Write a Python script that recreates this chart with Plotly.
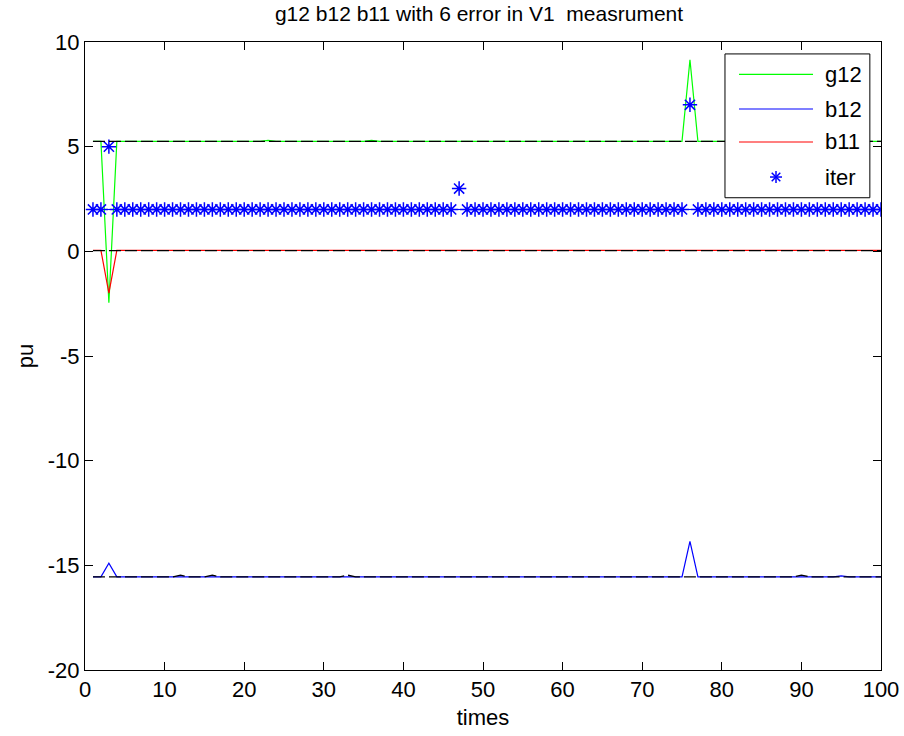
import plotly.graph_objects as go

times = list(range(1, 101))

g12 = [5.25] * 100
g12[2] = -2.45
g12[75] = 9.15
g12[22] = 5.3
g12[35] = 5.3

b12 = [-15.55] * 100
b12[2] = -14.9
b12[75] = -13.85
b12[94] = -15.5

b11 = [0.05] * 100
b11[2] = -2.0

iter_vals = [2] * 100
iter_vals[2] = 5
iter_vals[46] = 3
iter_vals[75] = 7

iter_base = [2] * 100

g12_ref = [5.25] * 100
b11_ref = [0.03] * 100
b12_ref = [-15.55] * 100
for i in (11, 15, 32, 89):
    b12_ref[i] = -15.47

x_ticks = [0, 10, 20, 30, 40, 50, 60, 70, 80, 90, 100]
y_ticks = [-20, -15, -10, -5, 0, 5, 10]
y_tick_labels = ["-20", "-15", "-10", "-5", "0", "5", "10"]

legend_names = ["g12", "b12", "b11", "iter"]
legend_colors = ["#00ff00", "#0000ff", "#ff0000", "#0000ff"]

FONT = "Liberation Sans Narrow, Arial Narrow, Liberation Sans, Arial"

fig = go.Figure()
fig.add_trace(go.Scatter(x=times, y=g12, mode="lines", name="g12",
                         line=dict(color="#00ff00", width=1.2)))
fig.add_trace(go.Scatter(x=times, y=b12, mode="lines", name="b12",
                         line=dict(color="#0000ff", width=1.2)))
fig.add_trace(go.Scatter(x=times, y=b11, mode="lines", name="b11",
                         line=dict(color="#ff0000", width=1.2)))
fig.add_trace(go.Scatter(x=times, y=iter_base, mode="lines", showlegend=False,
                         line=dict(color="#0000ff", width=1), hoverinfo="skip"))
fig.add_trace(go.Scatter(x=times, y=iter_vals, mode="markers", name="iter",
                         marker=dict(symbol="asterisk-open", size=12,
                                     color="#0000ff",
                                     line=dict(color="#0000ff", width=1.5))))
for ref in (g12_ref, b11_ref, b12_ref):
    fig.add_trace(go.Scatter(x=times, y=ref, mode="lines", showlegend=False,
                             line=dict(color="black", width=1.3, dash="12px,4px"),
                             hoverinfo="skip"))

# custom MATLAB-style legend (box, line samples, star, labels)
lx0, lx1, ly0, ly1 = 0.804, 0.986, 0.752, 0.981
sample_x0, sample_x1, text_x = 0.8216, 0.9146, 0.927
row_y = [0.9486, 0.8933, 0.8408, 0.785]

shapes = [dict(type="rect", xref="paper", yref="paper", x0=lx0, x1=lx1, y0=ly0, y1=ly1,
               line=dict(color="black", width=1), fillcolor="white", layer="above")]
annotations = []
for i, (nm, col) in enumerate(zip(legend_names, legend_colors)):
    if nm != "iter":
        shapes.append(dict(type="line", xref="paper", yref="paper",
                           x0=sample_x0, x1=sample_x1, y0=row_y[i], y1=row_y[i],
                           line=dict(color=col, width=1.2), layer="above"))
    annotations.append(dict(x=text_x, y=row_y[i], xref="paper", yref="paper",
                            text=nm, showarrow=False, xanchor="left", yanchor="middle",
                            font=dict(family=FONT, size=22, color="black")))

# star sample for "iter" drawn with pixel-sized strokes
star_cx = (sample_x0 + sample_x1) / 2
star_cy = row_y[3]
for dx, dy in [(6, 0), (0, 6), (4.3, 4.3), (4.3, -4.3)]:
    shapes.append(dict(type="line", xref="paper", yref="paper",
                       xsizemode="pixel", ysizemode="pixel",
                       xanchor=star_cx, yanchor=star_cy,
                       x0=-dx, x1=dx, y0=-dy, y1=dy,
                       line=dict(color="#0000ff", width=1.5), layer="above"))

axis_common = dict(
    showline=True, linecolor="black", linewidth=1, mirror="ticks",
    ticks="inside", ticklen=8, tickcolor="black", showgrid=False,
    zeroline=False, automargin=False,
    tickfont=dict(family=FONT, size=22, color="black"),
)

fig.update_layout(
    width=904, height=736,
    margin=dict(l=85, r=23, t=42, b=66),
    paper_bgcolor="white", plot_bgcolor="white",
    showlegend=False,
    title=dict(text="g12 b12 b11 with 6 error in V1  measrument",
               x=479 / 904, xanchor="center", xref="container",
               y=1 - 14 / 736, yanchor="middle", yref="container",
               font=dict(family=FONT, size=21, color="black")),
    xaxis=dict(range=[0, 100], tickmode="array", tickvals=x_ticks,
               title=dict(text="times", standoff=8,
                          font=dict(family=FONT, size=22, color="black")),
               **axis_common),
    yaxis=dict(range=[-20, 10], tickmode="array", tickvals=y_ticks, ticktext=y_tick_labels,
               title=dict(text="pu", standoff=8,
                          font=dict(family=FONT, size=22, color="black")),
               **axis_common),
    shapes=shapes,
    annotations=annotations,
)

fig.write_html("out.html")
